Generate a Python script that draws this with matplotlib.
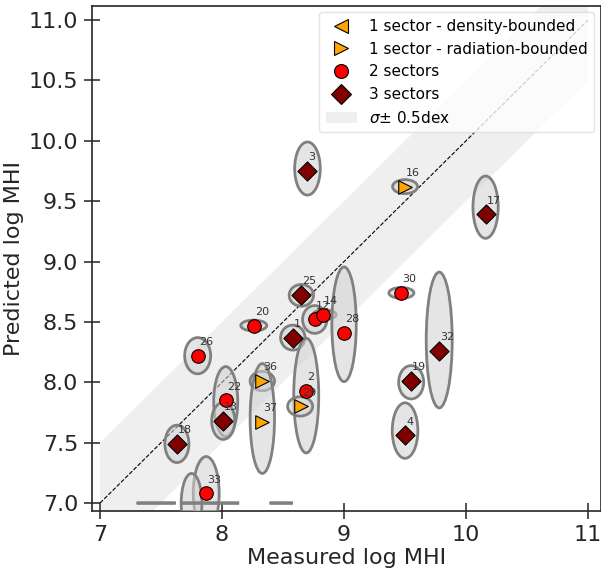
import matplotlib
matplotlib.use("Agg")
import matplotlib.pyplot as plt
from matplotlib.patches import Ellipse
from matplotlib.lines import Line2D
from matplotlib.patches import Patch

# galaxies: id, measured, predicted, sector class
ids = ['3', '16', '17', '20', '25', '12', '14', '28', '30', '1', '26', '32',
       '36', '2', '19', '22', '29', '13', '37', '18', '4', '33']
measured = [8.70, 9.50, 10.16, 8.26, 8.65, 8.76, 8.83, 9.00, 9.47, 8.58, 7.80, 9.78,
            8.33, 8.69, 9.55, 8.03, 8.65, 8.01, 8.33, 7.63, 9.50, 7.87]
predicted = [9.75, 9.62, 9.39, 8.47, 8.72, 8.52, 8.56, 8.41, 8.74, 8.37, 8.22, 8.26,
             8.01, 7.93, 8.01, 7.85, 7.80, 7.68, 7.67, 7.49, 7.56, 7.08]
sectors = ['3', '1r', '3', '2', '3', '2', '2', '2', '2', '3', '2', '3',
           '1r', '2', '3', '2', '1r', '3', '1r', '3', '3', '2']

# uncertainty ellipses (centre x, centre y, full width, full height)
ell_x = [8.70, 9.50, 10.16, 8.26, 8.65, 8.76, 8.84, 9.00, 9.47, 8.58, 7.80, 9.78,
         8.33, 8.69, 9.55, 8.03, 8.64, 8.01, 8.33, 7.63, 9.50, 7.87,
         7.75, 7.46, 7.90, 8.485]
ell_y = [9.77, 9.62, 9.45, 8.47, 8.72, 8.52, 8.56, 8.48, 8.74, 8.37, 8.22, 8.35,
         8.01, 7.89, 8.00, 7.84, 7.80, 7.68, 7.70, 7.49, 7.60, 7.08,
         7.00, 7.00, 7.00, 7.00]
ell_w = [0.21, 0.205, 0.207, 0.213, 0.20, 0.20, 0.19, 0.20, 0.205, 0.20, 0.213, 0.213,
         0.20, 0.205, 0.205, 0.197, 0.205, 0.19, 0.20, 0.197, 0.21, 0.213,
         0.17, 0.32, 0.48, 0.19]
ell_h = [0.44, 0.116, 0.516, 0.09, 0.18, 0.23, 0.08, 0.95, 0.09, 0.207, 0.30, 1.124,
         0.16, 0.95, 0.276, 0.58, 0.16, 0.306, 0.91, 0.31, 0.46, 0.61,
         0.49, 0.0, 0.0, 0.0]

styles = {
    '1d': dict(marker='<', color='orange', label='1 sector - density-bounded'),
    '1r': dict(marker='>', color='orange', label='1 sector - radiation-bounded'),
    '2': dict(marker='o', color='red', label='2 sectors'),
    '3': dict(marker='D', color='maroon', label='3 sectors'),
}

fig = plt.figure(figsize=(6.01, 5.68), dpi=100)
ax = fig.add_axes([92 / 601, 57 / 568, 508.5 / 601, 505 / 568])

# one-to-one line and scatter band
ax.fill_between([7, 11], [6.5, 10.5], [7.5, 11.5], color='lightgrey', alpha=0.35,
                lw=0, zorder=1)
ax.plot([7, 11], [7, 11], 'k--', lw=0.8, zorder=2)

for cx, cy, w, h in zip(ell_x, ell_y, ell_w, ell_h):
    e = Ellipse((cx, cy), w, h, facecolor=(0.82, 0.82, 0.82, 0.55),
                edgecolor='#808080', lw=2, zorder=3)
    ax.add_patch(e)

for x, y, s, lab in zip(measured, predicted, sectors, ids):
    st = styles[s]
    ax.scatter(x, y, s=95, marker=st['marker'], c=st['color'], edgecolors='black',
               linewidths=0.8, zorder=5)
    ax.text(x + 0.008, y + 0.09, lab, fontsize=8, color='#333333',
            ha='left', va='baseline', zorder=6)

handles = [Line2D([], [], ls='none', marker=st['marker'], markersize=10,
                  markerfacecolor=st['color'], markeredgecolor='black',
                  markeredgewidth=0.8, label=st['label'])
           for st in styles.values()]
handles.append(Patch(facecolor='#efefef', edgecolor='none', label=r'$\sigma$± 0.5dex'))
ax.legend(handles=handles, loc='upper right', fontsize=11, framealpha=0.8,
          edgecolor='#dddddd', handletextpad=0.8, borderpad=0.45,
          borderaxespad=0.4)

ax.set_xlim(6.934, 11.102)
ax.set_ylim(6.934, 11.116)
ax.set_xticks([7, 8, 9, 10, 11])
ax.set_yticks([7.0, 7.5, 8.0, 8.5, 9.0, 9.5, 10.0, 10.5, 11.0])
ax.set_yticklabels(['7.0', '7.5', '8.0', '8.5', '9.0', '9.5', '10.0', '10.5', '11.0'])
ax.tick_params(direction='inout', length=12, width=1.2, color='#333333',
               labelsize=16, labelcolor='#262626', pad=4)
for sp in ax.spines.values():
    sp.set_color('#262626')
    sp.set_linewidth(1.2)
ax.set_xlabel('Measured log MHI', fontsize=16, color='#262626', labelpad=2)
ax.set_ylabel('Predicted log MHI', fontsize=16, color='#262626', labelpad=3)

fig.savefig('out.png', dpi=100)
